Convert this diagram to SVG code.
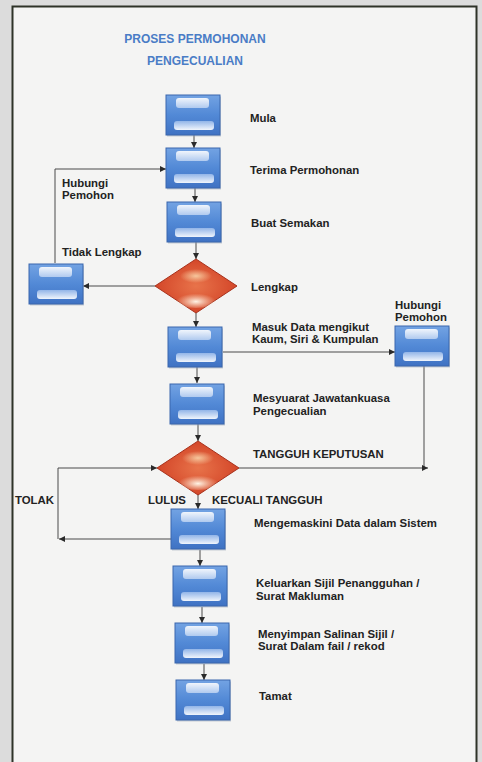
<svg xmlns="http://www.w3.org/2000/svg" xmlns:xlink="http://www.w3.org/1999/xlink" width="482" height="762" viewBox="0 0 482 762">
<defs>
<style>
.t{font-family:"Liberation Sans",Arial,sans-serif;font-size:11.4px;font-weight:bold;fill:#222}
.title{font-family:"Liberation Sans",Arial,sans-serif;font-size:12px;font-weight:bold;fill:#4a7cc6}
.c{fill:none;stroke:#4a4a4a;stroke-width:1}
.ca{fill:none;stroke:#4a4a4a;stroke-width:1;marker-end:url(#ah)}
</style>
<marker id="ah" viewBox="0 0 8 8" refX="8" refY="4" markerWidth="6" markerHeight="6" orient="auto" markerUnits="userSpaceOnUse">
<path d="M0,0 L8,4 L0,8 Z" fill="#2a2a2a"/>
</marker>
<linearGradient id="bg" x1="0" y1="0" x2="0" y2="1">
<stop offset="0" stop-color="#73a3e3"/>
<stop offset="0.5" stop-color="#5289d6"/>
<stop offset="1" stop-color="#3f72c3"/>
</linearGradient>
<linearGradient id="hl1" x1="0" y1="0" x2="0" y2="1">
<stop offset="0" stop-color="#f0f5fc"/>
<stop offset="1" stop-color="#b0caef"/>
</linearGradient>
<linearGradient id="hl2" x1="0" y1="0" x2="0" y2="1">
<stop offset="0" stop-color="#92b5e8"/>
<stop offset="1" stop-color="#f0f5fc"/>
</linearGradient>
<radialGradient id="dg" cx="0.5" cy="0.5" r="0.6">
<stop offset="0" stop-color="#e8734a"/>
<stop offset="1" stop-color="#cf3d22"/>
</radialGradient>
<radialGradient id="dh1" cx="0.5" cy="0.5" r="0.5">
<stop offset="0" stop-color="#f6c69c"/>
<stop offset="1" stop-color="#f6c69c" stop-opacity="0"/>
</radialGradient>
<radialGradient id="dh2" cx="0.5" cy="0.6" r="0.5">
<stop offset="0" stop-color="#fff4e6"/>
<stop offset="1" stop-color="#fbe0c6" stop-opacity="0"/>
</radialGradient>
<g id="box">
<rect x="1" y="1.5" width="54" height="40" fill="#9aa3b3" opacity="0.5"/>
<rect x="0" y="0" width="54" height="40" fill="url(#bg)" stroke="#3a66ad" stroke-width="1"/>
<rect x="10" y="3" width="33" height="10" rx="3" fill="url(#hl1)"/>
<rect x="8" y="26" width="40" height="9" rx="3" fill="url(#hl2)"/>
</g>
<g id="dia">
<polygon points="0,-27 41,0 0,27 -41,0" fill="url(#dg)" stroke="#a8311c" stroke-width="1"/>
<ellipse cx="0" cy="-10" rx="16" ry="7" fill="url(#dh1)"/>
<ellipse cx="0" cy="14" rx="20" ry="8" fill="url(#dh2)"/>
</g>
</defs>

<rect x="0" y="0" width="482" height="762" fill="#dcdcdc"/>
<rect x="12.5" y="6.5" width="464" height="770" fill="#f4f4f3" stroke="#2e3328" stroke-width="2"/>

<g id="title">
<text class="title" x="195" y="43" text-anchor="middle">PROSES PERMOHONAN</text>
<text class="title" x="195" y="65" text-anchor="middle">PENGECUALIAN</text>
</g>

<g id="connectors">
<line class="ca" x1="194" y1="135" x2="194" y2="148"/>
<line class="ca" x1="195" y1="188" x2="195" y2="202"/>
<line class="ca" x1="196" y1="242" x2="196" y2="259"/>
<line class="ca" x1="155" y1="286" x2="83" y2="286"/>
<polyline class="ca" points="55,263 55,169 166,169"/>
<line class="ca" x1="196" y1="313" x2="196" y2="327"/>
<line class="ca" x1="223" y1="352" x2="395" y2="352"/>
<line class="ca" x1="197" y1="367" x2="197" y2="383"/>
<line class="ca" x1="198" y1="424" x2="198" y2="441"/>
<polyline class="c" points="424,365 424,468"/>
<line class="ca" x1="239" y1="468" x2="428" y2="468"/>
<line class="ca" x1="198" y1="494" x2="198" y2="509"/>
<line class="ca" x1="171" y1="539" x2="59" y2="539"/>
<polyline class="ca" points="58,539 58,468 157,468"/>
<line class="ca" x1="200" y1="550" x2="200" y2="566"/>
<line class="ca" x1="202" y1="607" x2="202" y2="623"/>
<line class="ca" x1="204" y1="664" x2="204" y2="680"/>
</g>

<g id="n-mula"><use xlink:href="#box" x="166" y="95"/><text class="t" x="250" y="122">Mula</text></g>
<g id="n-terima"><use xlink:href="#box" x="166" y="148"/><text class="t" x="250" y="174">Terima Permohonan</text></g>
<g id="n-hubungi-left-label"><text class="t" x="62" y="187">Hubungi</text><text class="t" x="62" y="199">Pemohon</text></g>
<g id="n-buat"><use xlink:href="#box" x="167" y="202"/><text class="t" x="251" y="227">Buat Semakan</text></g>
<g id="n-lengkap"><use xlink:href="#dia" x="196" y="286"/><text class="t" x="251" y="291">Lengkap</text></g>
<g id="n-tidak"><use xlink:href="#box" x="29" y="264"/><text class="t" x="62" y="256">Tidak Lengkap</text></g>
<g id="n-masuk"><use xlink:href="#box" x="168" y="327"/><text class="t" x="252" y="331">Masuk Data mengikut</text><text class="t" x="252" y="343">Kaum, Siri &amp; Kumpulan</text></g>
<g id="n-hubungi-right"><use xlink:href="#box" x="395" y="326"/><text class="t" x="395" y="309">Hubungi</text><text class="t" x="395" y="321">Pemohon</text></g>
<g id="n-mesyuarat"><use xlink:href="#box" x="170" y="384"/><text class="t" x="253" y="402">Mesyuarat Jawatankuasa</text><text class="t" x="253" y="415">Pengecualian</text></g>
<g id="n-tangguh"><use xlink:href="#dia" x="198" y="468"/><text class="t" x="253" y="458">TANGGUH KEPUTUSAN</text></g>
<g id="n-labels"><text class="t" x="15" y="504">TOLAK</text><text class="t" x="148" y="504">LULUS</text><text class="t" x="212" y="504">KECUALI TANGGUH</text></g>
<g id="n-mengemaskini"><use xlink:href="#box" x="171" y="509"/><text class="t" x="254" y="527">Mengemaskini Data dalam Sistem</text></g>
<g id="n-keluarkan"><use xlink:href="#box" x="173" y="566"/><text class="t" x="256" y="587">Keluarkan Sijil Penangguhan /</text><text class="t" x="256" y="600">Surat Makluman</text></g>
<g id="n-menyimpan"><use xlink:href="#box" x="175" y="623"/><text class="t" x="258" y="638">Menyimpan Salinan Sijil /</text><text class="t" x="258" y="650">Surat Dalam fail / rekod</text></g>
<g id="n-tamat"><use xlink:href="#box" x="176" y="680"/><text class="t" x="259" y="700">Tamat</text></g>
</svg>
